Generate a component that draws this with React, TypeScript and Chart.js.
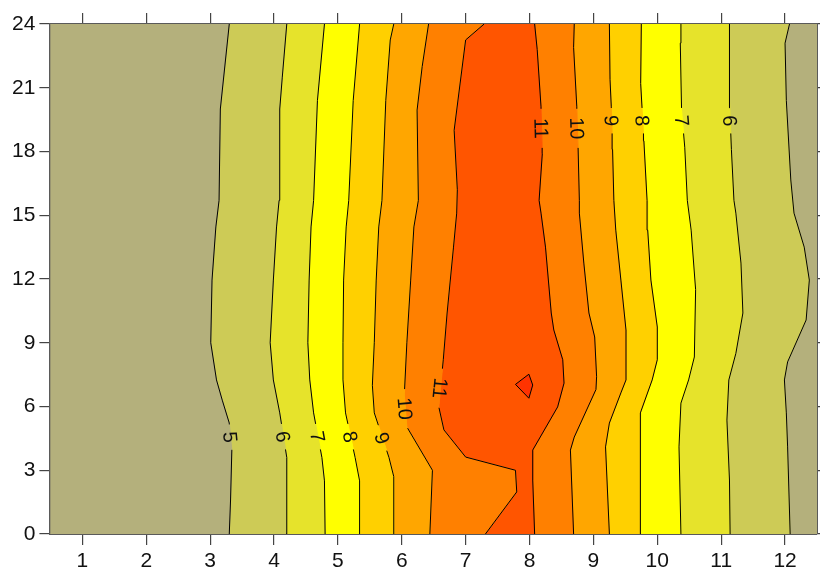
import React, { useEffect, useRef } from 'react';
import { Chart, registerables } from 'chart.js';

Chart.register(...registerables);

// ---- axes ----
const xTicks = [1, 2, 3, 4, 5, 6, 7, 8, 9, 10, 11, 12];
const xMin = 0.5;
const xMax = 12.5;
const yMin = 0;
const yMax = 24;
const yStep = 3;

// ---- contour lines, [x, y] vertices in data units, ascending y ----
const c5L = [[3.30, 0], [3.32, 1.6], [3.34, 3.95], [3.30, 5.22], [3.19, 6.3], [3.10, 7.25], [3.01, 9.0], [3.03, 11.95], [3.09, 14.45], [3.14, 15.7], [3.16, 20.0], [3.30, 24]];
const c6L = [[4.19, 0], [4.20, 3.6], [4.09, 5.7], [3.99, 7.25], [3.94, 9.0], [3.99, 11.95], [4.04, 14.45], [4.08, 15.7], [4.09, 20.0], [4.13, 21.5], [4.20, 24]];
const c7L = [[4.80, 0], [4.79, 2.5], [4.75, 3.6], [4.62, 5.7], [4.56, 7.25], [4.53, 9.0], [4.55, 11.95], [4.58, 14.45], [4.62, 15.7], [4.68, 20.4], [4.79, 24]];
const c8L = [[5.34, 0], [5.34, 2.5], [5.27, 3.6], [5.12, 5.7], [5.08, 7.25], [5.08, 9.0], [5.09, 11.95], [5.13, 14.45], [5.17, 15.7], [5.24, 20.4], [5.34, 24]];
const c9L = [[5.875, 0], [5.875, 2.7], [5.80, 3.6], [5.57, 5.7], [5.54, 7.0], [5.57, 9.0], [5.60, 11.95], [5.64, 14.45], [5.69, 15.7], [5.75, 20.4], [5.82, 23.25], [5.875, 24]];
const c10L = [[6.44, 0], [6.48, 3.0], [6.08, 5.04], [6.04, 6.55], [6.08, 9.0], [6.14, 11.95], [6.19, 14.45], [6.26, 15.7], [6.24, 19.95], [6.32, 22.0], [6.42, 24]];
const c11L = [[7.31, 0], [7.80, 1.98], [7.78, 3.0], [7.00, 3.62], [6.66, 4.9], [6.58, 5.98], [6.65, 8.2], [6.71, 10.4], [6.81, 13.5], [6.86, 15.1], [6.87, 16.2], [6.82, 19.0], [7.00, 23.25], [7.29, 24]];
const c11R = [[8.08, 0], [8.05, 2.54], [8.05, 3.95], [8.44, 5.98], [8.54, 7.1], [8.52, 8.2], [8.38, 9.6], [8.34, 10.4], [8.25, 13.5], [8.18, 15.1], [8.15, 15.7], [8.20, 17.9], [8.18, 20.1], [8.12, 22.8], [8.08, 24]];
const c10R = [[8.69, 0], [8.64, 3.95], [8.70, 4.56], [9.04, 6.8], [9.05, 7.4], [9.02, 9.27], [8.93, 10.4], [8.85, 12.75], [8.78, 15.1], [8.78, 15.7], [8.76, 18.2], [8.74, 20.1], [8.69, 22.9], [8.70, 24]];
const c9R = [[9.25, 0], [9.19, 4.1], [9.25, 5.22], [9.43, 6.64], [9.51, 7.25], [9.51, 9.6], [9.43, 11.95], [9.35, 14.3], [9.32, 15.7], [9.30, 18.1], [9.28, 20.1], [9.26, 21.4], [9.25, 24]];
const c8R = [[9.74, 0], [9.73, 4.1], [9.74, 5.7], [9.92, 7.25], [10.00, 8.2], [10.00, 9.74], [9.90, 11.95], [9.85, 14.3], [9.84, 15.7], [9.79, 18.5], [9.74, 21.2], [9.75, 24]];
const c7R = [[10.37, 0], [10.34, 4.1], [10.37, 6.16], [10.49, 7.25], [10.58, 8.33], [10.60, 11.5], [10.53, 14.3], [10.47, 15.7], [10.43, 18.2], [10.38, 19.95], [10.36, 23.1], [10.37, 24]];
const c6R = [[11.14, 0], [11.13, 2.54], [11.09, 5.36], [11.12, 7.25], [11.23, 8.5], [11.34, 10.4], [11.31, 12.75], [11.23, 15.1], [11.20, 15.7], [11.16, 18.1], [11.13, 20.4], [11.13, 24]];
const c5R = [[12.08, 0], [12.04, 4.1], [12.02, 5.7], [11.99, 7.25], [12.04, 8.1], [12.33, 10.07], [12.38, 11.95], [12.30, 13.5], [12.14, 15.1], [12.09, 16.66], [12.02, 20.4], [12.00, 23.1], [12.07, 24]];
// closed region above level 12
const peak12 = [[7.78, 7.04], [7.99, 7.52], [8.05, 7.01], [7.99, 6.39]];

// ---- levels and labels ----
const leftLines = [c5L, c6L, c7L, c8L, c9L, c10L, c11L];
const leftLevels = [5, 6, 7, 8, 9, 10, 11];
const leftLabelY = [4.56, 4.58, 4.58, 4.58, 4.52, 5.9, 6.86];
const rightLines = [c11R, c10R, c9R, c8R, c7R, c6R, c5R];
const rightLevels = [11, 10, 9, 8, 7, 6, 5];
const rightLabelY = [19.09, 19.09, 19.45, 19.45, 19.45, 19.45, null];

// colour of the band above each level (index 0 = below 5)
const bandLevels = [4, 5, 6, 7, 8, 9, 10, 11, 12];
const bandColors = ['#B4B07C', '#CDCB56', '#E6E32B', '#FFFF00', '#FFD000', '#FFA600', '#FF8000', '#FF5500', '#FF3300'];

const FONT = "'Liberation Sans', Arial, Helvetica, sans-serif";

function colorForLevel(lv: number) {
  const i = bandLevels.indexOf(lv);
  return bandColors[i < 0 ? 0 : i];
}

function interpX(pts: number[][], yv: number) {
  for (let i = 0; i < pts.length - 1; i++) {
    const [x0, y0] = pts[i];
    const [x1, y1] = pts[i + 1];
    if (yv >= y0 && yv <= y1) {
      const t = y1 === y0 ? 0 : (yv - y0) / (y1 - y0);
      return x0 + t * (x1 - x0);
    }
  }
  return yv < pts[0][1] ? pts[0][0] : pts[pts.length - 1][0];
}

function withGap(pts: number[][], ly: number | null, half: number) {
  if (ly == null) return pts.map(([x, y]) => ({ x, y }));
  const lo = ly - half;
  const hi = ly + half;
  const out: { x: number; y: number }[] = [];
  for (const [x, y] of pts) if (y < lo) out.push({ x, y });
  out.push({ x: interpX(pts, lo), y: lo });
  out.push({ x: NaN, y: NaN });
  out.push({ x: interpX(pts, hi), y: hi });
  for (const [x, y] of pts) if (y > hi) out.push({ x, y });
  return out;
}

function polygon(a: number[][], b: number[][]) {
  const pts = [...a, ...[...b].reverse(), a[0]];
  return pts.map(([x, y]) => ({ x, y }));
}

type LabelSpec = { line: number[][]; text: string; y: number };

function buildDatasets() {
  const leftEdge = [[xMin, yMin], [xMin, yMax]];
  const rightEdge = [[xMax, yMin], [xMax, yMax]];
  const boundaries = [leftEdge, ...leftLines, ...rightLines, rightEdge];
  const bandLv = [4, ...leftLevels, ...rightLevels.slice(1).map((l) => l), 4];
  // bandLv: level below each band region: 4,5..11 (left) then 10..5 (right) then 4
  const regionLevels = [4, ...leftLevels, ...rightLevels.slice(1), 4];
  const ds: any[] = [];
  for (let i = 0; i < boundaries.length - 1; i++) {
    const c = colorForLevel(regionLevels[i]);
    ds.push({
      data: polygon(boundaries[i], boundaries[i + 1]),
      fill: 'shape',
      backgroundColor: c,
      borderColor: c,
      borderWidth: 1,
      pointRadius: 0,
      order: 3,
    });
  }
  void bandLv;
  ds.push({
    data: [...peak12, peak12[0]].map(([x, y]) => ({ x, y })),
    fill: 'shape',
    backgroundColor: colorForLevel(12),
    borderColor: '#000',
    borderWidth: 1,
    pointRadius: 0,
    order: 1,
  });
  const lines = [...leftLines, ...rightLines];
  const lvls = [...leftLevels, ...rightLevels];
  const lys = [...leftLabelY, ...rightLabelY];
  lines.forEach((pts, i) => {
    const half = String(lvls[i]).length > 1 ? 0.92 : 0.6;
    ds.push({
      data: withGap(pts, lys[i], half),
      fill: false,
      borderColor: '#000',
      borderWidth: 1,
      pointRadius: 0,
      order: 0,
    });
  });
  return ds;
}

function buildLabels(): LabelSpec[] {
  const out: LabelSpec[] = [];
  leftLines.forEach((l, i) => out.push({ line: l, text: String(leftLevels[i]), y: leftLabelY[i] }));
  rightLines.forEach((l, i) => {
    const ly = rightLabelY[i];
    if (ly != null) out.push({ line: l, text: String(rightLevels[i]), y: ly });
  });
  return out;
}

const contourLabelPlugin = {
  id: 'contourLabels',
  afterDatasetsDraw(chart: any) {
    const { ctx, chartArea } = chart;
    const xs = chart.scales.x;
    const ys = chart.scales.y;
    const size = 20;
    ctx.save();
    ctx.beginPath();
    ctx.rect(chartArea.left, chartArea.top, chartArea.right - chartArea.left, chartArea.bottom - chartArea.top);
    ctx.clip();
    ctx.font = `${size}px ${FONT}`;
    ctx.fillStyle = '#111';
    ctx.textAlign = 'center';
    ctx.textBaseline = 'alphabetic';
    for (const lab of buildLabels()) {
      const px = xs.getPixelForValue(interpX(lab.line, lab.y));
      const py = ys.getPixelForValue(lab.y);
      const d = 0.5;
      const xa = xs.getPixelForValue(interpX(lab.line, lab.y + d));
      const ya = ys.getPixelForValue(lab.y + d);
      const xb = xs.getPixelForValue(interpX(lab.line, lab.y - d));
      const yb = ys.getPixelForValue(lab.y - d);
      const ang = Math.atan2(yb - ya, xb - xa);
      ctx.save();
      ctx.translate(px, py);
      ctx.rotate(ang);
      ctx.fillText(lab.text, 0, size * 0.358);
      ctx.restore();
    }
    ctx.restore();
  },
};

export default function App() {
  const ref = useRef<HTMLCanvasElement | null>(null);
  useEffect(() => {
    if (!ref.current) return;
    const gridOpts = {
      display: true,
      drawOnChartArea: false,
      drawTicks: true,
      tickLength: 11,
      color: '#444',
      lineWidth: 1.2,
    };
    const borderOpts = { display: true, color: '#5a5a5a', width: 2 };
    const tickFont = { family: FONT, size: 21 };
    const setXTicks = (ax: any) => {
      ax.ticks = xTicks.map((v) => ({ value: v }));
    };
    const chart = new Chart(ref.current, {
      type: 'line',
      data: { datasets: buildDatasets() },
      options: {
        animation: false,
        responsive: false,
        events: [],
        layout: { padding: 0 },
        plugins: { legend: { display: false }, tooltip: { enabled: false } },
        scales: {
          x: {
            type: 'linear',
            position: 'bottom',
            min: xMin,
            max: xMax,
            afterBuildTicks: setXTicks,
            afterFit: (ax: any) => { ax.height = 37; },
            grid: gridOpts,
            border: borderOpts,
            ticks: { color: '#111', font: tickFont, padding: 4, autoSkip: false, maxRotation: 0 },
          },
          x2: {
            type: 'linear',
            position: 'top',
            min: xMin,
            max: xMax,
            afterBuildTicks: setXTicks,
            afterFit: (ax: any) => { ax.height = 24; },
            grid: gridOpts,
            border: borderOpts,
            ticks: { display: false },
          },
          y: {
            type: 'linear',
            position: 'left',
            min: yMin,
            max: yMax,
            afterFit: (ax: any) => { ax.width = 50.4; },
            grid: gridOpts,
            border: borderOpts,
            ticks: { stepSize: yStep, color: '#111', font: tickFont, padding: 4 },
          },
          y2: {
            type: 'linear',
            position: 'right',
            min: yMin,
            max: yMax,
            afterFit: (ax: any) => { ax.width = 3; },
            grid: gridOpts,
            border: borderOpts,
            ticks: { stepSize: yStep, display: false },
          },
        },
      } as any,
      plugins: [contourLabelPlugin],
    });
    return () => chart.destroy();
  }, []);
  return (
    <div style={{ position: 'absolute', left: 0, top: 0, width: 820, height: 571, background: '#fff' }}>
      <canvas ref={ref} width={820} height={571} style={{ display: 'block' }} />
    </div>
  );
}
